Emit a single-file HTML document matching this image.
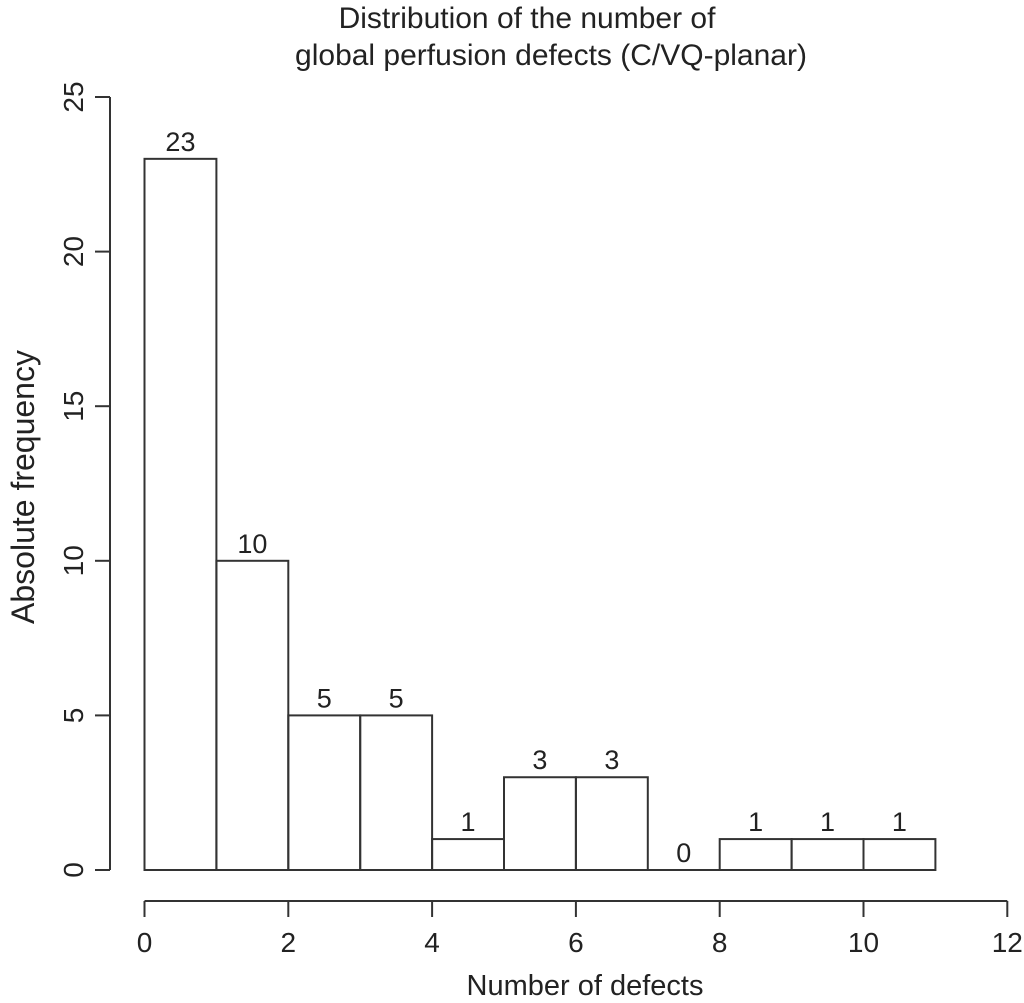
<!DOCTYPE html>
<html><head><meta charset="utf-8"><style>
body{margin:0;background:#fff}
svg{display:block;font-family:"Liberation Sans",sans-serif;fill:#222}
</style></head><body>
<svg width="1024" height="1003" viewBox="0 0 1024 1003">
<g id="g"></g>
</svg>
<script>
const binStarts=[0,1,2,3,4,5,6,7,8,9,10];
const counts=[23,10,5,5,1,3,3,0,1,1,1];
const xTicks=[0,2,4,6,8,10,12];
const yTicks=[0,5,10,15,20,25];
const X=v=>144.5+v*71.9;
const Y=v=>870-v*30.92;
const NS='http://www.w3.org/2000/svg';
const g=document.getElementById('g');
function mk(t,a,txt){const e=document.createElementNS(NS,t);for(const k in a)e.setAttribute(k,a[k]);if(txt!==undefined)e.textContent=txt;g.appendChild(e);return e;}
const stroke={stroke:'#333','stroke-width':2,fill:'none'};
let e;
e=mk('text',{x:527,y:28,'font-size':30,'text-anchor':'middle'},'Distribution of the number of');


e=mk('text',{x:551,y:65,'font-size':30,'text-anchor':'middle'},'global perfusion defects (C/VQ-planar)');


binStarts.forEach((b,i)=>{
 const h=Y(0)-Y(counts[i]);
 let r;
 if(h>0){r=mk('rect',Object.assign({x:X(b),y:Y(counts[i]),width:X(b+1)-X(b),height:h},stroke));}
 else{r=mk('line',Object.assign({x1:X(b),x2:X(b+1),y1:Y(0),y2:Y(0)},stroke));}
 
 
 const t=mk('text',{x:(X(b)+X(b+1))/2,y:Y(counts[i])-8,'font-size':27,'text-anchor':'middle'},String(counts[i]));
 
 
});
e=mk('line',Object.assign({x1:X(0),x2:X(12),y1:901,y2:901},stroke));


xTicks.forEach(v=>{
 const l=mk('line',Object.assign({x1:X(v),x2:X(v),y1:901,y2:917},stroke));
 
 
 const t=mk('text',{x:X(v),y:952,'font-size':28,'text-anchor':'middle'},String(v));
 
 
});
e=mk('line',Object.assign({x1:110,x2:110,y1:Y(0),y2:Y(25)},stroke));


yTicks.forEach(v=>{
 const l=mk('line',Object.assign({x1:95,x2:110,y1:Y(v),y2:Y(v)},stroke));
 
 
 const t=mk('text',{x:83,y:Y(v),'font-size':28,'text-anchor':'middle',transform:`rotate(-90 83 ${Y(v)})`},String(v));
 
 
});
e=mk('text',{x:585,y:995,'font-size':29,'text-anchor':'middle'},'Number of defects');


e=mk('text',{x:34,y:487,'font-size':32,'text-anchor':'middle',transform:'rotate(-90 34 487)'},'Absolute frequency');


</script>
</body></html>
